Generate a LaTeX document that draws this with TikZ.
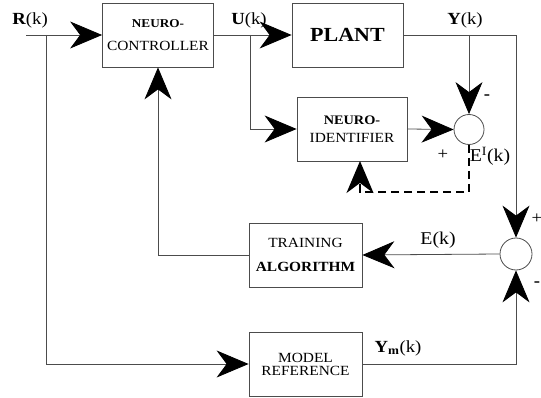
\documentclass[tikz,border=0pt]{standalone}
\usepackage{fontspec}
\setmainfont{Liberation Serif}[FakeStretch=1.1]
\usetikzlibrary{arrows.meta}

\newcommand{\fsz}[1]{\fontsize{#1}{#1}\selectfont}

\begin{document}
\begin{tikzpicture}[x=1pt,y=-1pt,
  line width=0.8pt, draw=black!70,
  >={Stealth[length=32pt,width=27pt,inset=10pt,black]},
  block/.style={draw=black!70, rectangle, minimum width=111pt,
    minimum height=64pt, align=center, inner sep=0pt},
  sumnode/.style={draw=black!70, circle, minimum size=30pt, inner sep=0pt},
  sig/.style={font=\fsz{17}, inner sep=0pt},
  sgn/.style={font=\fsz{17}\bfseries, inner sep=0pt}]
  \useasboundingbox (0,0) rectangle (541,398);

  % blocks
  \node[block] (ctrl) at (158,35)
    {{\fsz{12}\bfseries NEURO-}\\[11pt]{\fsz{14}CONTROLLER}};
  \node[block] (plant) at (347.5,35) {\fsz{20}\bfseries PLANT};
  \node[block, minimum width=110pt] (ident) at (352,129)
    {{\fsz{13}\bfseries NEURO-}\\[6pt]{\fsz{14}IDENTIFIER}};
  \node[block, minimum width=113pt] (train) at (305.5,255)
    {{\fsz{14}TRAINING}\\[12pt]{\fsz{14}\bfseries ALGORITHM}};
  \node[block, minimum width=113pt] (model) at (305.5,364)
    {{\fsz{14}MODEL}\\[1pt]{\fsz{14}REFERENCE}};

  % summing junctions
  \node[sumnode] (sum1) at (469,129.5) {};
  \node[sumnode, minimum width=32pt] (sum2) at (516,254) {};

  % branch points
  \coordinate (rin) at (26,35);
  \coordinate (rbr) at (46,35);
  \coordinate (ubr) at (250,35);
  \coordinate (ybr) at (469,35);
  \coordinate (edown) at (469,192);
  \coordinate (eleft) at (360,192);
  \coordinate (eup) at (360,161);

  % signals
  \draw[->] (rin) -- (ctrl.west);
  \draw[->] (rbr) |- (model.west);
  \draw[->] (ctrl.east) -- (plant.west);
  \draw[->] (ubr) |- (ident.west);
  \draw[->] (plant.east) -| (sum2.north);
  \draw[->] (ybr) -- (sum1.north);
  \draw[->] (ident.east) -- (sum1.west);
  \draw[->] (sum2.west) -- (train.east);
  \draw[->] (train.west) -| (ctrl.south);
  \draw[->] (model.east) -| (sum2.south);
  \draw[->, draw=black, line width=1.6pt, dash pattern=on 8pt off 5pt]
    (sum1.south) -- (edown) -- (eleft) -- (eup);

  % labels
  \node[sig] (rlbl) at (30,20) {\textbf{R}(k)};
  \node[sig] (ulbl) at (249,20) {\textbf{U}(k)};
  \node[sig] (ylbl) at (465,20) {\textbf{Y}(k)};
  \node[sig] (ymlbl) at (398,348) {\textbf{Y}\textsubscript{\textbf{m}}(k)};
  \node[sig, font=\fsz{18}] (elbl) at (438,240) {E(k)};
  \node[sig, font=\fsz{18}] (eilbl) at (490,156) {E\textsuperscript{I}(k)};
  \node[sgn] (m1) at (487,97) {-};
  \node[sig] (p1) at (443,155) {+};
  \node[sig] (p2) at (537,219) {+};
  \node[sgn] (m2) at (537,284) {-};
\end{tikzpicture}
\end{document}
